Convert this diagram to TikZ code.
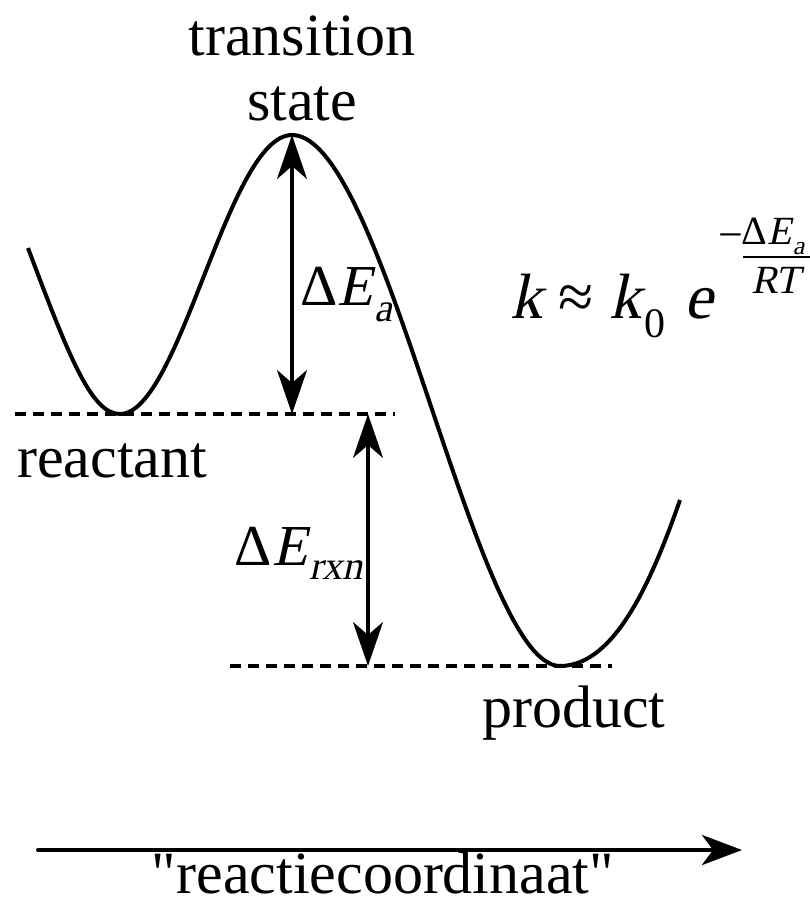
\documentclass[tikz,border=0pt]{standalone}
\usepackage{fontspec}
\setmainfont{Liberation Serif}[ItalicFont={Liberation Serif},ItalicFeatures={FakeSlant=0.22}]
\newfontfamily\qfont{Liberation Serif}[Ligatures=TeXOff]
\usetikzlibrary{arrows.meta}
\begin{document}
\begin{tikzpicture}[x=1pt,y=-1pt,
  lbl/.style={inner sep=0pt, font=\fontsize{60}{60}\selectfont},
  sml/.style={inner sep=0pt, font=\fontsize{40}{40}\selectfont},
  curve/.style={line width=4pt},
  lvl/.style={line width=3.5pt, dash pattern=on 11pt off 7pt},
  dimarrow/.style={line width=3.2pt, {Stealth[length=44pt,width=30pt,inset=13pt]}-{Stealth[length=44pt,width=30pt,inset=13pt]}},
  axis/.style={line width=4pt, line cap=round, -{Stealth[length=40pt,width=30pt,inset=11pt]}}
]
\useasboundingbox (0,0) rectangle (809,908);
% energy curve
\draw[curve] (28,248) .. controls (70,360) and (92,414) .. (120,414)
  .. controls (180,414) and (228,135) .. (292,135)
  .. controls (385,135) and (475,666) .. (560,666)
  .. controls (615,666) and (652,580) .. (680,500);
% levels
\coordinate (rA) at (15,414);
\coordinate (rB) at (395,414);
\coordinate (pA) at (230,666);
\coordinate (pB) at (612,666);
\draw[lvl] (rA) -- (rB);
\draw[lvl] (pA) -- (pB);
% dimension arrows
\coordinate (ts) at (292,135);
\coordinate (rl) at (292,414);
\coordinate (r2) at (368,414);
\coordinate (pl) at (368,666);
\draw[dimarrow] (ts) -- (rl);
\draw[dimarrow] (r2) -- (pl);
% labels
\node[lbl, anchor=base] (tr) at (302,55) {transition};
\node[lbl, anchor=base] (st) at (302,120) {state};
\node[lbl, anchor=base west] (re) at (17,477) {reactant};
\node[lbl, anchor=base west] (pr) at (482,727) {product};
\node[lbl, anchor=base west] (ea) at (300,305) {\fontsize{58}{58}\selectfont Δ\textit{E}\hspace{2pt}\raisebox{-0.28em}{\fontsize{40}{40}\selectfont\textit{a}}};
\node[lbl, anchor=base east] (er) at (363,565) {\fontsize{58}{58}\selectfont Δ\textit{E}\hspace{2pt}\raisebox{-0.25em}{\fontsize{40}{40}\selectfont\textit{rxn}}};
% rate formula
\node[lbl, anchor=base west] (kf) at (510,318) {\fontsize{64}{64}\selectfont\textit{k} ≈ \textit{k}\hspace{3pt}\raisebox{-0.3em}{\fontsize{42}{42}\selectfont 0}\hspace{0.3em}\textit{e}};
\node[sml, anchor=center] (mi) at (731,242) {\fontsize{44}{44}\selectfont −};
\coordinate (fb0) at (743,257);
\coordinate (fb1) at (812,257);
\draw[line width=1.8pt] (fb0) -- (fb1);
\node[sml, anchor=base] (nu) at (773,244) {Δ\textit{E}\hspace{1pt}\raisebox{-0.25em}{\fontsize{26}{26}\selectfont\textit{a}}};
\node[sml, anchor=base] (de) at (776,293) {\textit{RT}};
% axis
\coordinate (ax0) at (38,850);
\coordinate (ax1) at (742,850);
\draw[axis] (ax0) -- (ax1);
\node[lbl, anchor=base] (rc) at (383,893) {\qfont "reactiecoordinaat"};
\end{tikzpicture}
\end{document}
